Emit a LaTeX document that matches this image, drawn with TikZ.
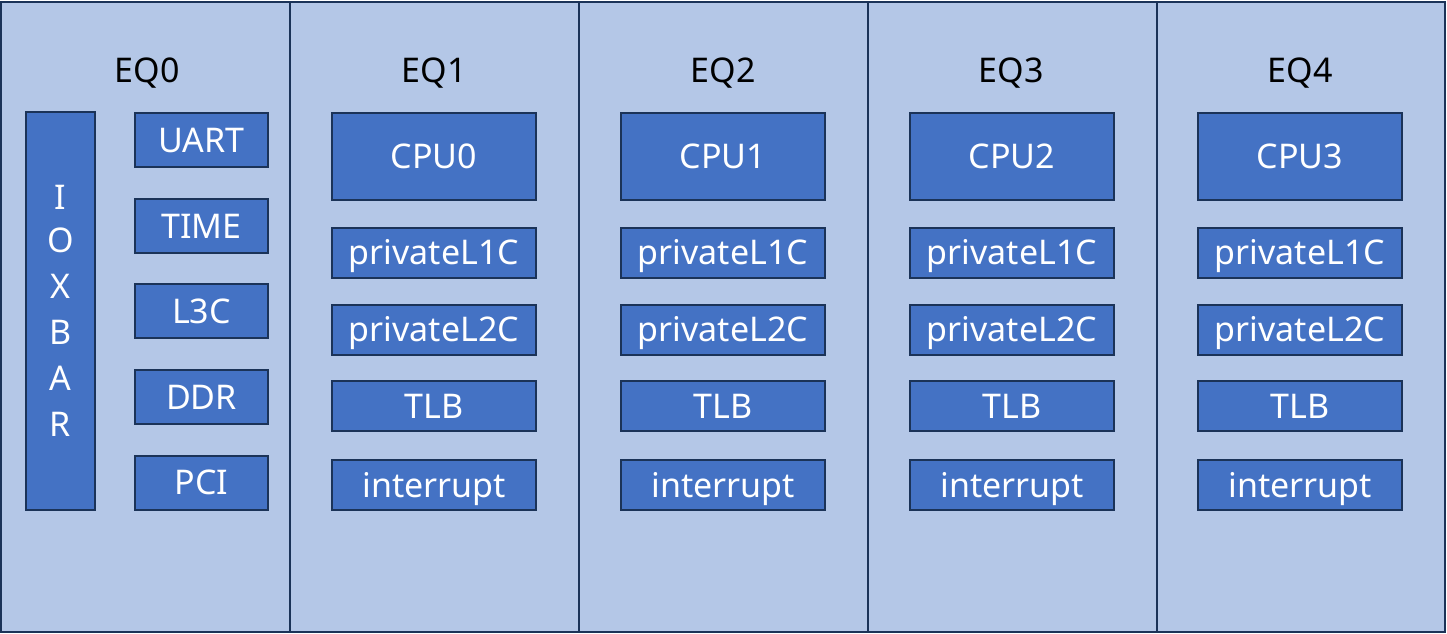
\documentclass[tikz,border=0pt]{standalone}
\usepackage{fontspec}
\setmainfont{Noto Sans}
\definecolor{bgblue}{HTML}{B4C7E7}
\definecolor{boxblue}{HTML}{4472C4}
\definecolor{edge}{HTML}{1B3358}
\begin{document}
\begin{tikzpicture}[x=1pt,y=-1pt,
  col/.style={draw=edge,line width=2pt,fill=bgblue,inner sep=0pt,minimum height=630pt,minimum width=#1},
  blk/.style={draw=edge,line width=2pt,fill=boxblue,text=white,inner sep=0pt,font=\fontsize{34}{40}\selectfont,text height=24.5pt,text depth=0pt},
  small/.style={blk,minimum width=133pt,minimum height=54pt},
  cpu/.style={blk,minimum width=204pt,minimum height=87pt},
  sub/.style={blk,minimum width=204pt,minimum height=50pt},
  title/.style={font=\fontsize{34}{40}\selectfont,text=black,inner sep=0pt,text height=24.5pt,text depth=0pt}]
\useasboundingbox (0,0) rectangle (1447,633);
% columns
\node[col=289pt] (c0) at (145.5,316.5) {};
\node[col=289pt] (c1) at (434.5,316.5) {};
\node[col=289pt] (c2) at (723.5,316.5) {};
\node[col=289pt] (c3) at (1012.5,316.5) {};
\node[col=288pt] (c4) at (1301,316.5) {};
% titles
\node[title] (t0) at (147,70) {EQ0};
\node[title] (t1) at (434,70) {EQ1};
\node[title] (t2) at (723,70) {EQ2};
\node[title] (t3) at (1011,70) {EQ3};
\node[title] (t4) at (1300,70) {EQ4};
% EQ0 contents
\node[draw=edge,line width=2pt,fill=boxblue,text=white,inner sep=0pt,
  minimum width=69pt,minimum height=398pt,align=center,
  font=\fontsize{34}{46}\selectfont] (iox) at (60.5,311) {\raisebox{-3pt}{I}\\O\\X\\B\\A\\R};
\node[small] (uart) at (201.5,140) {UART};
\node[small] (time) at (201.5,226) {TIME};
\node[small] (l3c)  at (201.5,311) {L3C};
\node[small] (ddr)  at (201.5,397) {DDR};
\node[small] (pci)  at (201.5,482.5) {PCI};
% EQ1..EQ4 contents
\foreach \k/\x in {0/434,1/723,2/1012,3/1300}{
  \node[cpu] (cpu\k) at (\x,156.5) {CPU\k};
  \node[sub] (lone\k) at (\x,252.5) {privateL1C};
  \node[sub] (ltwo\k) at (\x,329.5) {privateL2C};
  \node[sub] (tlb\k) at (\x,406) {TLB};
  \node[sub] (irq\k) at (\x,485) {interrupt};
}
\end{tikzpicture}
\end{document}
